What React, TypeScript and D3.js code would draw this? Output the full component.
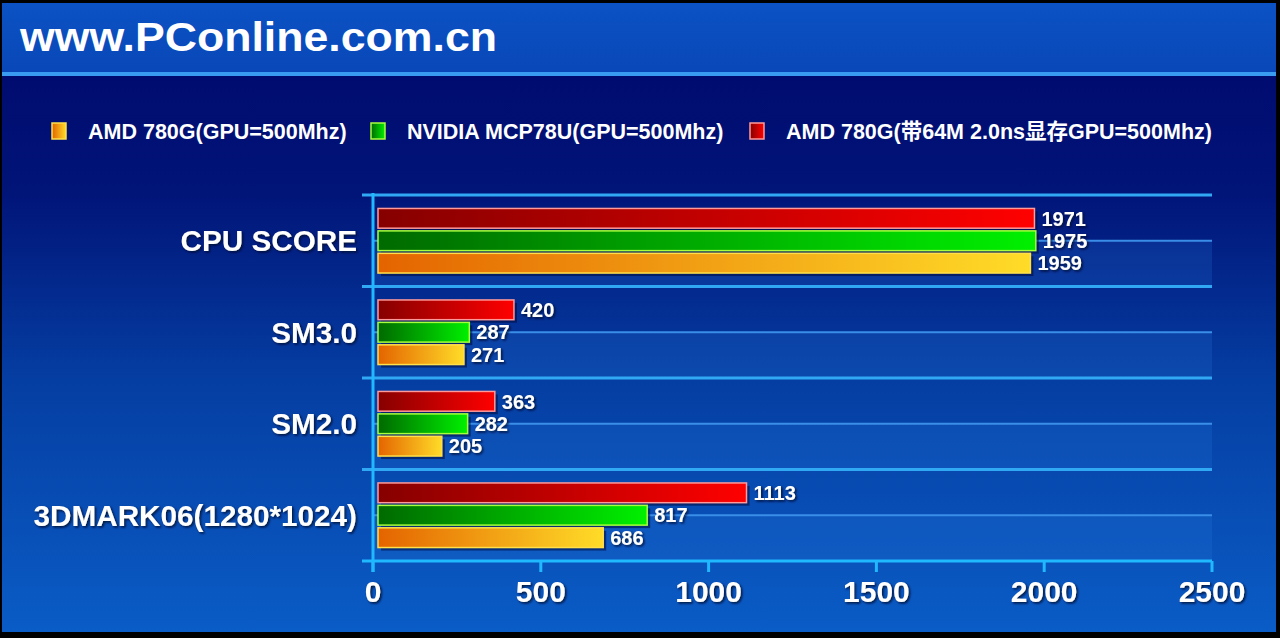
import React from 'react'
import * as d3 from 'd3'

const categories = ['CPU SCORE', 'SM3.0', 'SM2.0', '3DMARK06(1280*1024)']
const seriesNames = ['AMD 780G(GPU=500Mhz)', 'NVIDIA MCP78U(GPU=500Mhz)', 'AMD 780G(带64M 2.0ns显存GPU=500Mhz)']
const amd780g = [1959, 271, 205, 686]
const mcp78u = [1975, 287, 282, 817]
const amdSideport = [1971, 420, 363, 1113]
const xTicks = [0, 500, 1000, 1500, 2000, 2500]

const W = 1280
const H = 638
const font = '"Liberation Sans", Arial, "Noto Sans CJK SC", sans-serif'

// bar styles, keyed by series id
const styles: Record<string, { from: string; to: string; stroke: string }> = {
  orange: { from: '#e46400', to: '#ffdc28', stroke: '#ffe04a' },
  green: { from: '#006a00', to: '#00f000', stroke: '#a8ff3c' },
  red: { from: '#860000', to: '#ff0000', stroke: '#ff9a9a' },
}

const series = [
  { id: 'orange', name: seriesNames[0], values: amd780g },
  { id: 'green', name: seriesNames[1], values: mcp78u },
  { id: 'red', name: seriesNames[2], values: amdSideport },
]
// top to bottom within a category
const barOrder = ['red', 'green', 'orange']

const App = () => {
  const x = d3.scaleLinear().domain([0, 2500]).range([373, 1212])
  const y = d3.scaleBand().domain(categories).range([195, 561])
  const sub = d3
    .scaleBand()
    .domain(barOrder)
    .range([0, y.bandwidth()])
    .paddingInner(0.12)
    .paddingOuter(0.6)

  const half = y.bandwidth() / 2
  const legendX = [52, 371, 750]

  return (
    <svg
      width={W}
      height={H}
      style={{ position: 'absolute', left: 0, top: 0, display: 'block' }}
      fontFamily={font}
      fontWeight="bold"
    >
      <defs>
        <linearGradient id="bg" x1="0" y1="0" x2="0" y2="1">
          <stop offset="0" stopColor="#00066a" />
          <stop offset="0.3" stopColor="#011478" />
          <stop offset="0.6" stopColor="#053ea2" />
          <stop offset="1" stopColor="#0a5cc6" />
        </linearGradient>
        <linearGradient id="hdr" x1="0" y1="0" x2="0" y2="1">
          <stop offset="0" stopColor="#0b52c4" />
          <stop offset="1" stopColor="#0947b8" />
        </linearGradient>
        {Object.entries(styles).map(([k, s]) => (
          <linearGradient key={k} id={`g-${k}`} x1="0" y1="0" x2="1" y2="0">
            <stop offset="0" stopColor={s.from} />
            <stop offset="1" stopColor={s.to} />
          </linearGradient>
        ))}
        <filter id="shadow" x="-10%" y="-20%" width="130%" height="160%">
          <feDropShadow dx="1.5" dy="1.5" stdDeviation="0.8" floodColor="#000830" floodOpacity="0.9" />
        </filter>
      </defs>

      {/* frame and background */}
      <rect width={W} height={H} fill="#000" />
      <rect x={2} y={3} width={W - 6} height={H - 9} fill="url(#bg)" />
      <rect x={2} y={3} width={W - 6} height={70} fill="url(#hdr)" />
      <rect x={2} y={72} width={W - 6} height={4} fill="#3a9cf0" />
      <text x={20} y={51} fontSize={41} fill="#fff" textLength={477} lengthAdjust="spacingAndGlyphs">
        www.PConline.com.cn
      </text>

      {/* legend */}
      {series.map((s, i) => (
        <g key={s.id}>
          <rect x={legendX[i]} y={123} width={14} height={16} fill={`url(#g-${s.id})`} stroke={styles[s.id].stroke} strokeWidth={1.5} />
          <text x={legendX[i] + 36} y={139} fontSize={21.5} fill="#fff">
            {s.name}
          </text>
        </g>
      ))}

      {/* lighter lower-half bands and grid lines */}
      {categories.map(c => (
        <g key={c}>
          <rect x={x(0)} y={(y(c) ?? 0) + half} width={x(2500) - x(0)} height={half} fill="#2a7ee0" opacity={0.2} />
          <line x1={x(0)} x2={x(2500)} y1={(y(c) ?? 0) + half} y2={(y(c) ?? 0) + half} stroke="#3a8ee8" strokeWidth={2} />
          <line x1={362} x2={x(2500)} y1={y(c) ?? 0} y2={y(c) ?? 0} stroke="#30a8f4" strokeWidth={3} />
        </g>
      ))}
      <line x1={362} x2={x(2500)} y1={561} y2={561} stroke="#20b8ff" strokeWidth={3} />

      {/* bars */}
      {categories.map((c, ci) =>
        barOrder.map(id => {
          const s = series.find(d => d.id === id)!
          const v = s.values[ci]
          const by = (y(c) ?? 0) + (sub(id) ?? 0)
          const bh = sub.bandwidth()
          const x0 = x(0) + 5
          return (
            <g key={c + id}>
              <rect x={x0 + 3} y={by + 3} width={x(v) - x0} height={bh} fill="#000a3a" opacity={0.55} />
              <rect x={x0} y={by} width={x(v) - x0} height={bh} fill={`url(#g-${id})`} stroke={styles[id].stroke} strokeWidth={1.5} />
              <text
                x={x(v) + 7}
                y={by + bh / 2}
                dy="0.36em"
                fontSize={20}
                fill="#fff"
                filter="url(#shadow)"
              >
                {v}
              </text>
            </g>
          )
        })
      )}

      {/* y axis */}
      <line x1={x(0)} x2={x(0)} y1={193} y2={572} stroke="#20b8ff" strokeWidth={3} />
      {categories.map(c => (
        <text
          key={c}
          x={357}
          y={(y(c) ?? 0) + half}
          dy="0.36em"
          textAnchor="end"
          fontSize={29.7}
          fill="#fff"
          filter="url(#shadow)"
        >
          {c}
        </text>
      ))}

      {/* x axis ticks */}
      {xTicks.map(t => (
        <g key={t}>
          <line x1={x(t)} x2={x(t)} y1={561} y2={572} stroke="#20b8ff" strokeWidth={3} />
          <text x={x(t)} y={602} textAnchor="middle" fontSize={30} fill="#fff" filter="url(#shadow)">
            {t}
          </text>
        </g>
      ))}
    </svg>
  )
}

export default App
